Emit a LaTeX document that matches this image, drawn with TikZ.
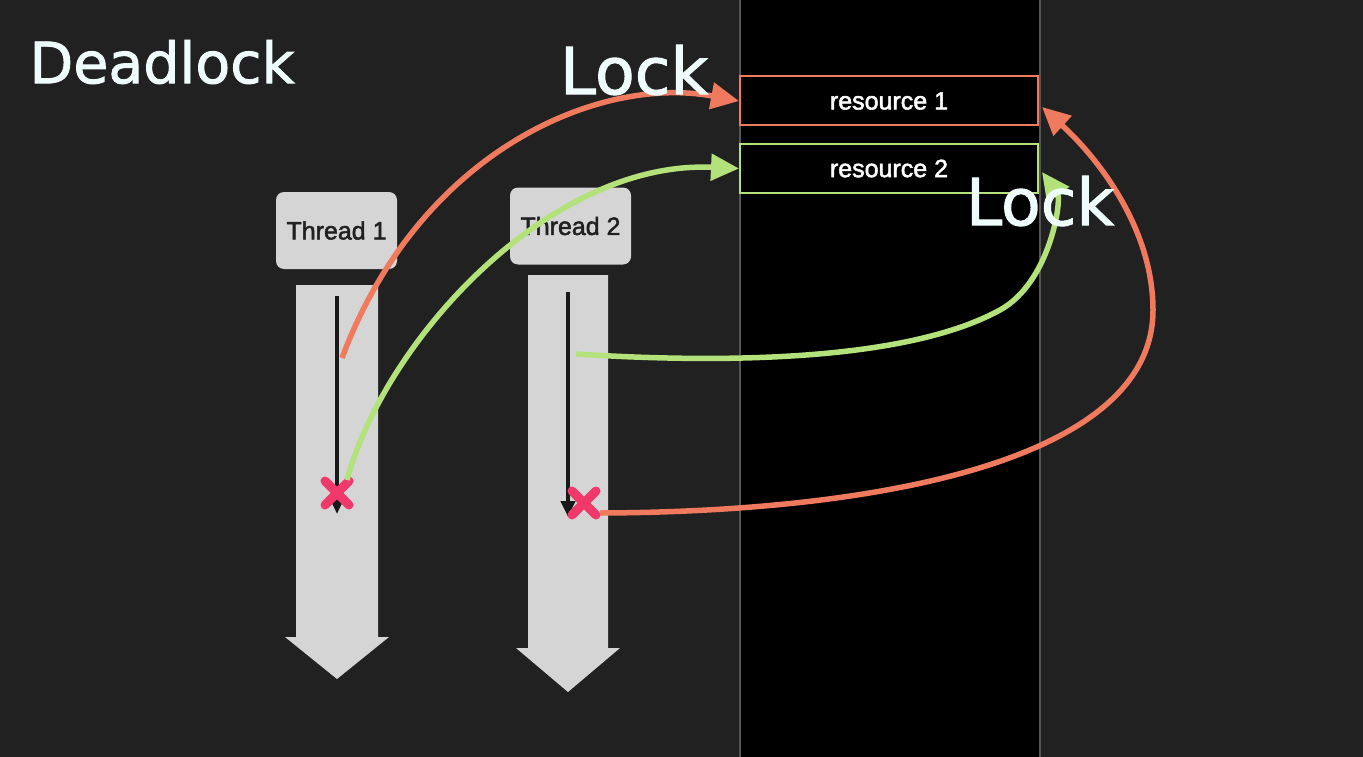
\documentclass[tikz,border=0pt]{standalone}
\usepackage{fontspec}
\setmainfont{Liberation Sans}
\newfontfamily\boxfont{Liberation Sans}[FakeBold=2]
\newfontfamily\handfont{DejaVu Sans}[FakeBold=1.5]
\usetikzlibrary{arrows.meta}

\definecolor{bg}{HTML}{212121}
\definecolor{lockred}{HTML}{F07A5E}
\definecolor{lockgreen}{HTML}{B4E27A}
\definecolor{crosspink}{HTML}{F0386A}
\definecolor{threadgray}{HTML}{D5D5D5}
\definecolor{chalk}{HTML}{EEFCFC}
\definecolor{colline}{HTML}{555555}

\tikzset{
	threadbox/.style={fill=threadgray, rounded corners=8pt, minimum width=121pt, minimum height=77pt, text=bg, font=\boxfont\fontsize{25}{25}\selectfont},
	resbox/.style={draw, fill=black, minimum width=298pt, minimum height=49pt, line width=2pt, text=white, font=\boxfont\fontsize{25}{25}\selectfont},
	lockarrow/.style={line width=5.5pt, -{Triangle[length=28pt,width=26pt]}},
	handtext/.style={text=chalk, font=\handfont\fontsize{#1}{#1}\selectfont},
	handtext/.default=62,
	cross/.style={crosspink, line width=9pt, line cap=round},
	timeline/.style={black!90, line width=4pt, -{Triangle[length=16pt,width=14pt]}},
}

\begin{document}
\begin{tikzpicture}[x=1pt, y=-1pt]
	\fill[bg] (0,0) rectangle (1363,757);
	\useasboundingbox (0,0) rectangle (1363,757);

	% Resource column
	\fill[black] (740,0) rectangle (1040,757);
	\draw[colline, line width=1.5pt] (740,0) -- (740,757);
	\draw[colline, line width=1.5pt] (1040,0) -- (1040,757);
	\node[resbox, draw=lockred] (res1) at (889,101) {resource 1};
	\node[resbox, draw=lockgreen] (res2) at (889,168.5) {resource 2};

	% Thread timelines
	\fill[threadgray] (296,285) -- (378,285) -- (378,637) -- (389,637) -- (337,679) -- (285,637) -- (296,637) -- cycle;
	\fill[threadgray] (528,275) -- (608,275) -- (608,648) -- (620,648) -- (568,692) -- (516,648) -- (528,648) -- cycle;
	\draw[timeline] (337,296) -- (337,514);
	\draw[timeline] (568,292) -- (568,517);

	\node[threadbox] (t1) at (336.5,230.5) {Thread 1};
	\node[threadbox] (t2) at (570.5,226) {Thread 2};

	% Blocked points
	\draw[cross] (325,481) -- (349,505);
	\draw[cross] (349,481) -- (325,505);
	\draw[cross] (572,491) -- (596,515);
	\draw[cross] (596,491) -- (572,515);

	\coordinate (t1lock) at (342,358);
	\coordinate (t1wait) at (347,480);
	\coordinate (t2lock) at (576,354);
	\coordinate (t2wait) at (600,513);
	\coordinate (res2hook) at (1042,172);

	% Lock arrows
	\draw[lockarrow, lockred] (t1lock) .. controls (420,150) and (600,75) .. (res1.west);
	\draw[lockarrow, lockgreen] (t1wait) .. controls (385,340) and (550,160) .. (res2.west);
	\draw[lockarrow, lockgreen] (t2lock) .. controls (700,362) and (900,365) .. (1000,310)
		.. controls (1050,282.5) and (1062,200) .. (res2hook);
	\draw[lockarrow, lockred] (t2wait) .. controls (880,512) and (1153,460) .. (1153,310)
		.. controls (1153,230) and (1100,160) .. ([shift={(3,6)}]res1.east);

	% Labels
	\node[handtext=57] (title) at (162,62) {Deadlock};
	\node[handtext=65] (lock1) at (634,70) {Lock};
	\node[handtext=65] (lock2) at (1040,201) {Lock};
\end{tikzpicture}
\end{document}
